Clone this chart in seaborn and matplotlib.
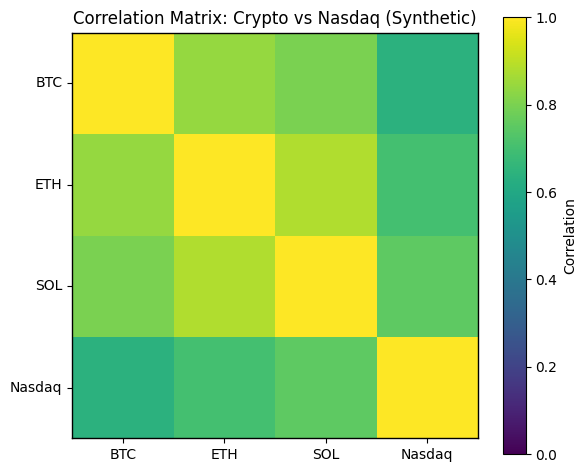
import matplotlib
matplotlib.use("Agg")
import matplotlib.pyplot as plt
import pandas as pd
import seaborn as sns

assets = ["BTC", "ETH", "SOL", "Nasdaq"]
btc = [1.00, 0.84, 0.80, 0.64]
eth = [0.84, 1.00, 0.88, 0.70]
sol = [0.80, 0.88, 1.00, 0.75]
nasdaq = [0.64, 0.70, 0.75, 1.00]

corr = pd.DataFrame([btc, eth, sol, nasdaq], index=assets, columns=assets)

fig = plt.figure(figsize=(5.86, 4.72), dpi=100)
ax = fig.add_axes([0.1234, 0.0710, 0.6923, 0.8597])
cax = fig.add_axes([0.8589, 0.0381, 0.0382, 0.9252])
sns.heatmap(corr, cmap="viridis", vmin=0, vmax=1, ax=ax, cbar_ax=cax,
            cbar_kws={"label": "Correlation"})

# bring back frame and tick marks that seaborn strips
for s in ax.spines.values():
    s.set_visible(True)
    s.set_linewidth(1.0)
ax.tick_params(length=3.5, width=0.8)
plt.setp(ax.get_yticklabels(), rotation=0)
cb = ax.collections[0].colorbar
cb.outline.set_visible(True)
cb.outline.set_linewidth(0.8)
cb.set_ticks([0.0, 0.2, 0.4, 0.6, 0.8, 1.0])
ax.set_xlabel("")
ax.set_ylabel("")
ax.set_title("Correlation Matrix: Crypto vs Nasdaq (Synthetic)")

plt.savefig("out.png", dpi=100)
